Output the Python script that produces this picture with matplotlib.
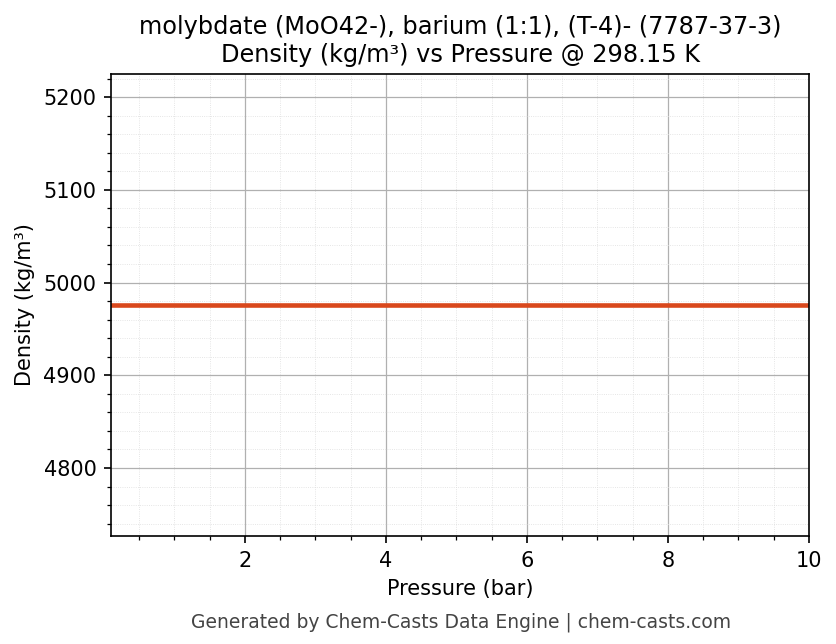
import matplotlib
matplotlib.use("Agg")
import matplotlib.pyplot as plt
from matplotlib.ticker import AutoMinorLocator

pressure = [0.1, 10.0]
density = [4975.5, 4975.5]

fig = plt.figure(figsize=(836/150, 644/150), dpi=150)
ax = fig.add_axes([0.1328, 0.1677, 0.8349, 0.7173])
ax.plot(pressure, density, color="#d9481c", linewidth=2.2)
ax.set_xlim(0.1, 10)
ax.set_ylim(4726.7, 5224.8)
ax.set_xticks([2, 4, 6, 8, 10])
ax.set_yticks([4800, 4900, 5000, 5100, 5200])
ax.xaxis.set_minor_locator(AutoMinorLocator(4))
ax.yaxis.set_minor_locator(AutoMinorLocator(5))
ax.grid(True, which="major", color="#b0b0b0", linewidth=0.6)
ax.grid(True, which="minor", color="#dddddd", linewidth=0.4, linestyle=":")
ax.tick_params(labelsize=10)
ax.set_xlabel("Pressure (bar)", fontsize=10)
ax.set_ylabel("Density (kg/m³)", fontsize=10)
ax.set_title("molybdate (MoO42-), barium (1:1), (T-4)- (7787-37-3)\nDensity (kg/m³) vs Pressure @ 298.15 K", fontsize=11.5)
fig.text(0.551, 0.025, "Generated by Chem-Casts Data Engine | chem-casts.com", ha="center", fontsize=9, color="#444444")
fig.savefig("out.png", dpi=150)
